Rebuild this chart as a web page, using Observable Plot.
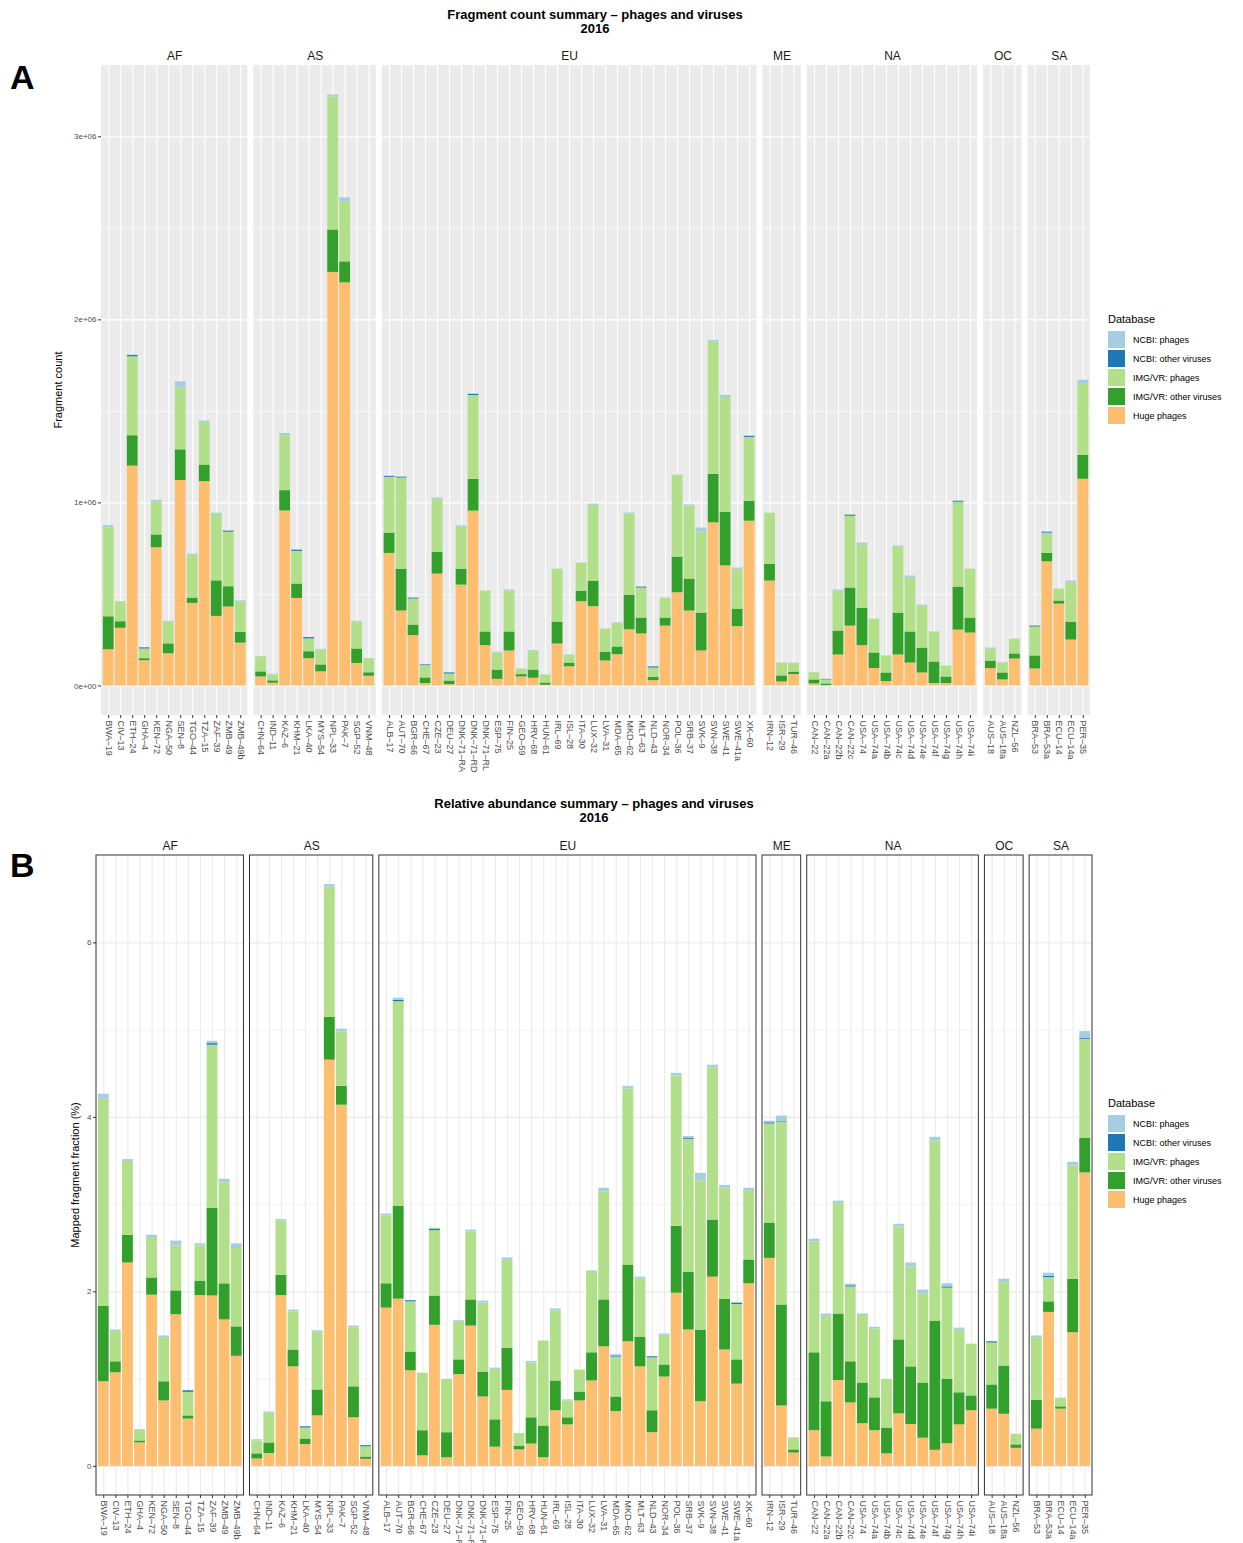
<!DOCTYPE html>
<html><head><meta charset="utf-8">
<script src="https://cdn.jsdelivr.net/npm/d3@7"></script>
<script src="https://cdn.jsdelivr.net/npm/@observablehq/plot@0.6"></script>
<style>
body{margin:0;background:#fff;font-family:"Liberation Sans",Arial,sans-serif;}
#page{position:relative;width:1243px;height:1543px;overflow:hidden;background:#fff;}
.abs{position:absolute;}
.title{font-weight:bold;font-size:13px;line-height:14px;text-align:center;color:#000;}
.tag{font-weight:bold;font-size:34px;color:#000;}
.ytitle{font-size:11px;color:#000;white-space:nowrap;transform:translate(-50%,-50%) rotate(-90deg);}
.legend{font-size:9px;color:#000;}
.legend .lt{font-size:11px;margin-bottom:5px;}
.legend .row{display:flex;align-items:center;height:19px;}
.legend .key{width:17px;height:17px;margin-right:8px;}
</style></head><body><div id="page"></div>
<script>
// ---------- data ----------
const regions = ["AF","AS","EU","ME","NA","OC","SA"];
const regionSizes = [12,10,31,3,14,3,5];
const samples = [
 "BWA–19","CIV–13","ETH–24","GHA–4","KEN–72","NGA–50","SEN–8","TGO–44","TZA–15","ZAF–39","ZMB–49","ZMB–49b",
 "CHN–64","IND–11","KAZ–6","KHM–21","LKA–40","MYS–54","NPL–33","PAK–7","SGP–52","VNM–48",
 "ALB–17","AUT–70","BGR–66","CHE–67","CZE–23","DEU–27","DNK–71–RA","DNK–71–RD","DNK–71–RL","ESP–75","FIN–25","GEO–59","HRV–68","HUN–61","IRL–69","ISL–28","ITA–30","LUX–32","LVA–31","MDA–65","MKD–62","MLT–63","NLD–43","NOR–34","POL–36","SRB–37","SVK–9","SVN–38","SWE–41","SWE–41a","XK–60",
 "IRN–12","ISR–29","TUR–46",
 "CAN–22","CAN–22a","CAN–22b","CAN–22c","USA–74","USA–74a","USA–74b","USA–74c","USA–74d","USA–74e","USA–74f","USA–74g","USA–74h","USA–74i",
 "AUS–18","AUS–18a","NZL–56",
 "BRA–53","BRA–53a","ECU–14","ECU–14a","PER–35"
];
// stacking order bottom -> top
const databases = ["Huge phages","IMG/VR: other viruses","IMG/VR: phages","NCBI: other viruses","NCBI: phages"];
const dbColors = ["#FDBF6F","#33A02C","#B2DF8A","#1F78B4","#A6CEE3"];

// Panel A: fragment counts (millions)
const countHuge = [
 .198,.315,1.201,.138,.755,.176,1.122,.451,1.116,.380,.431,.234,
 .049,.015,.956,.478,.149,.077,2.259,2.202,.123,.053,
 .724,.409,.275,.013,.611,.007,.551,.955,.220,.036,.191,.049,.042,.004,.229,.105,.460,.433,.136,.171,.307,.284,.029,.327,.509,.409,.191,.891,.656,.324,.900,
 .573,.022,.062,
 .011,.002,.169,.327,.220,.095,.024,.169,.125,.071,.013,.013,.305,.289,
 .095,.033,.147,
 .093,.678,.447,.251,1.129];
const countImgOther = [
 .180,.036,.166,.011,.070,.054,.168,.029,.091,.194,.111,.059,
 .028,.013,.111,.079,.038,.038,.232,.115,.079,.019,
 .111,.229,.058,.031,.120,.020,.087,.174,.075,.051,.104,.013,.045,.012,.120,.020,.058,.140,.049,.042,.189,.087,.018,.044,.195,.175,.207,.265,.293,.096,.109,
 .092,.033,.014,
 .022,.009,.131,.208,.205,.085,.047,.229,.170,.136,.118,.036,.235,.082,
 .041,.038,.028,
 .071,.047,.017,.098,.131];
const countImgPhage = [
 .485,.106,.431,.053,.180,.121,.338,.236,.232,.363,.298,.164,
 .082,.032,.300,.178,.070,.083,.727,.327,.149,.077,
 .305,.498,.142,.067,.289,.038,.229,.458,.223,.093,.223,.031,.100,.044,.289,.044,.153,.414,.126,.129,.444,.164,.051,.109,.441,.400,.442,.724,.627,.218,.349,
 .279,.070,.049,
 .038,.022,.218,.392,.344,.185,.093,.362,.296,.229,.164,.060,.464,.267,
 .066,.054,.081,
 .158,.110,.065,.213,.387];
const countNcbiOther = [
 0,0,.007,.006,0,0,0,0,0,0,.006,0,
 0,0,0,.007,.007,0,0,0,0,0,
 .005,.005,.005,.004,0,.006,0,.006,0,0,0,0,0,0,0,0,0,0,0,0,0,.005,.006,0,0,0,0,0,0,0,.006,
 0,0,0,
 0,.003,0,.006,0,0,0,0,0,0,0,0,.005,0,
 0,0,0,
 .005,.005,0,0,0];
const countNcbiPhage = [
 .013,.004,.003,0,.009,.002,.034,.005,.008,.007,.002,.008,
 .002,.004,.012,.004,0,.002,.010,.023,.002,0,
 .002,.003,0,0,.007,0,.008,.003,0,.005,.006,0,.006,0,0,0,0,.006,0,.003,.005,0,0,0,.006,.005,.022,.008,.011,.006,.002,
 0,0,0,
 .002,0,.006,.003,.011,0,0,.005,.009,.006,0,0,.002,0,
 .005,.004,0,
 0,.002,0,.011,.023];

// Panel B: mapped fragment fraction (%)
const fracHuge = [
 .970,1.073,2.331,.269,1.962,.750,1.738,.543,1.958,1.953,1.679,1.262,
 .085,.148,1.958,1.141,.251,.579,4.656,4.140,.557,.081,
 1.814,1.917,1.096,.121,1.617,.099,1.051,1.608,.795,.220,.871,.189,.256,.099,.638,.476,.750,.979,1.370,.629,1.428,1.141,.386,1.024,1.985,1.563,.741,2.169,1.334,.943,2.093,
 2.384,.692,.153,
 .409,.108,.983,.727,.489,.409,.144,.602,.480,.323,.184,.260,.476,.638,
 .656,.597,.207,
 .427,1.765,.656,1.531,3.363];
const fracImgOther = [
 .867,.126,.318,.023,.198,.220,.274,.036,.166,1.006,.414,.337,
 .059,.121,.233,.193,.063,.297,.490,.216,.355,.027,
 .279,1.065,.215,.288,.336,.287,.170,.300,.287,.314,.485,.044,.301,.364,.341,.081,.103,.323,.538,.166,.880,.341,.252,.139,.768,.664,.822,.655,.583,.278,.273,
 .405,1.158,.036,
 .893,.633,.764,.472,.467,.377,.296,.848,.661,.633,1.482,.741,.368,.170,
 .278,.553,.040,
 .332,.121,.027,.615,.400];
const fracImgPhage = [
 2.370,.346,.845,.121,.462,.507,.516,.270,.404,1.868,1.154,.898,
 .148,.342,.620,.435,.126,.660,1.495,.624,.678,.117,
 .776,2.344,.575,.660,.750,.611,.440,.777,.790,.575,1.006,.135,.628,.974,.804,.193,.252,.921,1.240,.458,2.016,.669,.606,.341,1.720,1.522,1.710,1.743,1.271,.634,.795,
 1.136,2.097,.139,
 1.271,.988,1.257,.858,.773,.790,.557,1.294,1.145,1.024,2.066,1.042,.719,.593,
 .480,.956,.121,
 .718,.278,.098,1.298,1.132];
const fracNcbiOther = [
 0,0,0,0,0,0,0,.018,0,.018,0,0,
 0,0,0,0,.014,0,0,0,0,.013,
 0,.015,.013,0,.013,0,0,0,0,0,0,0,0,0,0,0,0,0,0,.013,0,0,.013,0,0,.014,0,0,0,.013,0,
 .013,.009,0,
 0,0,0,.013,0,0,0,0,0,0,0,.014,0,0,
 .014,0,0,
 0,.014,0,0,.013];
const fracNcbiPhage = [
 .059,.018,.022,.009,.027,.018,.054,0,.023,.027,.044,.054,
 .013,.013,.018,.023,0,.018,.027,.031,.018,0,
 .023,.025,0,0,.014,0,.009,.023,.023,.018,.027,.009,.018,0,.022,.013,0,.018,.040,.014,.032,.018,0,.014,.031,.018,.086,.031,.032,.013,.027,
 .018,.059,0,
 .031,.018,.036,.018,.018,.018,0,.031,.045,.041,.040,.036,.022,0,
 0,.040,0,
 .018,.036,0,.041,.076];

const countTicks = [0, 1e6, 2e6, 3e6];
const countMinor = [0.5e6, 1.5e6, 2.5e6];
const fracTicks = [0, 2, 4, 6];
const fracMinor = [1, 3, 5];

// ---------- layout of free-width facet panels on one linear x scale ----------
const gap = 0.5, pad = 0.6;
const pos = [];
const panels = [];
{
  let cursor = 0;
  regions.forEach((r, j) => {
    const x1 = cursor;
    for (let i = 0; i < regionSizes[j]; i++) pos.push(x1 + pad + i);
    const x2 = x1 + regionSizes[j] - 1 + 2 * pad;
    panels.push({region: r, x1, x2, xc: (x1 + x2) / 2});
    cursor = x2 + gap;
  });
}
const xMax = panels[panels.length - 1].x2;
const nameAt = new Map(pos.map((p, i) => [p, samples[i]]));

function buildTable(series, scale) {
  const rows = [];
  samples.forEach((s, i) => {
    databases.forEach((db, j) => rows.push({sample: s, pos: pos[i], db, value: series[j][i] * scale}));
  });
  return rows;
}

function expandDomain(table) {
  const totals = d3.rollup(table, v => d3.sum(v, d => d.value), d => d.sample);
  const mx = d3.max(totals.values());
  return [-0.05 * mx, mx * 1.05];
}

function chart({table, majors, minors, tickFormat, theme, width, height, marginLeft, marginRight, marginTop, marginBottom}) {
  const grid = theme === "gray" ? "#FFFFFF" : "#EBEBEB";
  const gridRows = vals => panels.flatMap(p => vals.map(v => ({y: v, x1: p.x1, x2: p.x2})));
  const marks = [
    Plot.rect(panels, {x1: "x1", x2: "x2", fill: theme === "gray" ? "#EBEBEB" : "#FFFFFF"}),
    Plot.ruleY(gridRows(minors), {y: "y", x1: "x1", x2: "x2", stroke: grid, strokeWidth: 0.6}),
    Plot.ruleY(gridRows(majors), {y: "y", x1: "x1", x2: "x2", stroke: grid, strokeWidth: 1.1}),
    Plot.ruleX(pos, {x: d => d, stroke: grid, strokeWidth: 1.1}),
    Plot.rectY(table, Plot.stackY({x: "pos", y: "value", fill: "db",
      x1: d => d.pos - 0.45, x2: d => d.pos + 0.45})),
  ];
  if (theme === "bw") marks.push(Plot.rect(panels, {x1: "x1", x2: "x2", fill: "none", stroke: "#333333", strokeWidth: 1}));
  marks.push(
    Plot.text(panels, {x: "xc", text: "region", frameAnchor: "top", dy: -14, fontSize: 12, fill: "#1A1A1A"}),
    Plot.axisX(pos, {anchor: "bottom", tickFormat: d => nameAt.get(d), tickRotate: 90, tickSize: 3, tickPadding: 2, fontSize: 9, label: null, stroke: "#333333", fill: "#4D4D4D"}),
    Plot.axisY(majors, {anchor: "left", tickFormat, tickSize: 3, tickPadding: 2, fontSize: 8, label: null, stroke: "#333333", fill: "#4D4D4D"})
  );
  return Plot.plot({
    width, height, marginLeft, marginRight, marginTop, marginBottom,
    style: {fontFamily: "Liberation Sans, Arial, sans-serif", background: "transparent", overflow: "visible"},
    x: {type: "linear", domain: [0, xMax]},
    y: {domain: expandDomain(table)},
    color: {domain: databases, range: dbColors},
    marks
  });
}

const page = document.getElementById("page");
function addDiv(cls, html, style) {
  const d = document.createElement("div");
  d.className = "abs " + cls;
  d.innerHTML = html;
  Object.assign(d.style, style);
  page.appendChild(d);
  return d;
}
function addLegend(top) {
  const rows = databases.slice().reverse().map(db => {
    const c = dbColors[databases.indexOf(db)];
    return `<div class="row"><div class="key" style="background:${c}"></div><span>${db}</span></div>`;
  }).join("");
  addDiv("legend", `<div class="lt">Database</div>${rows}`, {left: "1108px", top: top + "px"});
}

// ---------- Panel A ----------
const svgA = chart({
  table: buildTable([countHuge, countImgOther, countImgPhage, countNcbiOther, countNcbiPhage], 1e6),
  majors: countTicks, minors: countMinor,
  tickFormat: d => d === 0 ? "0e+00" : `${d / 1e6}e+06`,
  theme: "gray", width: 1100, height: 790, marginLeft: 101, marginRight: 10, marginTop: 65, marginBottom: 75
});
const wrapA = addDiv("", "", {left: "0px", top: "0px"});
wrapA.appendChild(svgA);

// ---------- Panel B ----------
const svgB = chart({
  table: buildTable([fracHuge, fracImgOther, fracImgPhage, fracNcbiOther, fracNcbiPhage], 1),
  majors: fracTicks, minors: fracMinor,
  tickFormat: d => String(d),
  theme: "bw", width: 1100, height: 753, marginLeft: 96, marginRight: 8, marginTop: 65, marginBottom: 48
});
const wrapB = addDiv("", "", {left: "0px", top: "790px"});
wrapB.appendChild(svgB);

// titles, tags, axis titles, legends
addDiv("title", "Fragment count summary – phages and viruses<br>2016", {left: "0px", width: "1190px", top: "8px"});
addDiv("title", "Relative abundance summary – phages and viruses<br>2016", {left: "0px", width: "1188px", top: "797px"});
addDiv("tag", "A", {left: "10px", top: "58px"});
addDiv("tag", "B", {left: "10px", top: "846px"});
addDiv("ytitle", "Fragment count", {left: "58px", top: "390px"});
addDiv("ytitle", "Mapped fragment fraction (%)", {left: "75px", top: "1175px"});
addLegend(313);
addLegend(1097);
</script>
</body></html>
